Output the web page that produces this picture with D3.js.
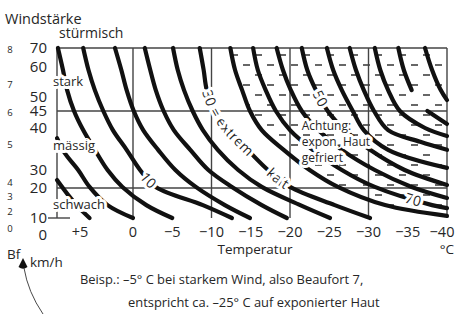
<!DOCTYPE html>
<html>
<meta charset="utf-8">
<title>Windchill</title>
<style>
body { margin: 0; background: #fff; }
text { font-family: "Open Sans", sans-serif; fill: #262626; }
.halo { stroke: #fff; stroke-width: 6px; stroke-linejoin: round; paint-order: stroke; }
</style>
<body>
<svg id="chart" width="455" height="314"></svg>
<script src="https://cdn.jsdelivr.net/npm/d3@7"></script>
<script>
// ticks
var tempTicks = [5, 0, -5, -10, -15, -20, -25, -30, -35, -40];
var windTicks = [70, 60, 50, 45, 40, 30, 20, 10, 0];
var bfNames = ["8", "7", "6", "5", "4", "3", "2", "0"];
var bfKmh   = [69, 54, 44.5, 36, 23, 17, 12, 4];
var tempGrid = [10, 0, -10, -20, -30, -40];
var windGrid = [70, 45, 20];
var classNames = ["stürmisch", "stark", "mässig", "schwach"];
var classKmh   = [75.3, 53.7, 34.8, 13];

// isolines of felt temperature, [temp °C, wind km/h]
var wcP5  = [[10,24.4],[7.6,17.7],[5.4,13.7],[4.1,10]];
var wc0   = [[10,37.6],[8.3,34],[5.4,30],[4.1,20.6],[2.4,14.3],[0,10]];
var wcM5  = [[9.8,70],[8.7,59],[7.8,52.3],[6.3,45],[4.7,39.5],[3.6,34.8],[2.4,30],[1.0,20.6],[-1.7,14.3],[-5.0,10]];
var wcM10 = [[4.7,70],[4.2,59],[3.6,52.3],[2.8,45],[1.9,39.5],[0.6,34.8],[-0.9,30],[-2.9,20.6],[-8.9,14.3],[-12.6,10]];
var wcM15 = [[1.7,70],[1.1,59],[0.6,52.3],[-0.1,45],[-1.3,39.5],[-3.2,34.8],[-5.4,30],[-8.0,20.6],[-11.7,14.3],[-14.9,10]];
var wcM20 = [[-1.5,70],[-2.2,59],[-2.9,52.3],[-3.9,45],[-5.2,39.5],[-7.3,34.8],[-9.6,30],[-12.6,20.6],[-16.4,14.3],[-19.6,10]];
var wcM25 = [[-5.1,70],[-5.7,59],[-6.5,52.3],[-7.6,45],[-8.9,39.5],[-10.8,34.8],[-13.4,30],[-16.4,20.6],[-21.3,14.3],[-25.1,10]];
var wcM30 = [[-8.5,70],[-9.0,59],[-9.4,52.3],[-10.4,45],[-12.1,39.5],[-14.6,34.8],[-17.2,30],[-20.0,20.6],[-25.7,14.3],[-30.2,10]];
var wcM35 = [[-12.4,70],[-13.0,59],[-13.9,52.3],[-14.9,45],[-16.4,39.5],[-19.2,34.8],[-22.5,30],[-26.1,20.6],[-32.1,14.3],[-40,10.7]];
var wcM40 = [[-15.3,70],[-15.9,59],[-16.9,52.3],[-18.2,45],[-20.0,39.5],[-22.9,34.8],[-26.6,30],[-30.8,20.6],[-38.1,14.3],[-40,13.3]];
var wcM45 = [[-18.3,70],[-19.1,59],[-20.1,52.3],[-21.5,45],[-23.6,39.5],[-26.6,34.8],[-30.8,30],[-35.5,20.6],[-40,16.7]];
var wcM50 = [[-21.5,70],[-22.2,59],[-23.3,52.3],[-24.8,45],[-27.0,39.5],[-30.2,34.8],[-34.6,30],[-40,21.7]];
var wcM55 = [[-24.7,70],[-25.5,59],[-26.6,52.3],[-28.0,45],[-29.4,39.5],[-32.5,34.8],[-40,30.5]];
var wcM60 = [[-27.6,70],[-28.4,59],[-29.4,52.3],[-30.7,45],[-32.5,39.5],[-36.6,36.7],[-40,34.8]];
var wcM65 = [[-30.8,70],[-31.5,59],[-32.5,52.3],[-34.0,45],[-37.2,40],[-40,38.1]];
var wcM70 = [[-33.8,70],[-34.5,59],[-35.5,52.3],null,[-37.5,45],[-40,41.2]];
var wcM75 = [[-37.2,70],[-38.1,59],[-39.2,52.3],[-40,48.9]];

var isolines = [wcP5, wc0, wcM5, wcM10, wcM15, wcM20, wcM25, wcM30, wcM35,
                wcM40, wcM45, wcM50, wcM55, wcM60, wcM65, wcM70, wcM75];

var svg = d3.select("#chart");

var x = d3.scaleLinear().domain([10, 5, 0, -40]).range([57, 80, 133, 447]);
var y = d3.scaleLinear().domain([0, 10, 20, 30, 40, 45, 50, 60, 70])
  .range([235, 218, 188, 170, 128, 111, 97, 67, 48]);

// frost hatch right of the -35 line
var defs = svg.append("defs");
var pat = defs.append("pattern").attr("id", "frost")
  .attr("patternUnits", "userSpaceOnUse").attr("width", 24).attr("height", 20);
pat.append("line").attr("x1", 3).attr("x2", 10).attr("y1", 5).attr("y2", 5);
pat.append("line").attr("x1", 15).attr("x2", 22).attr("y1", 15).attr("y2", 15);
pat.selectAll("line").attr("stroke", "#333").attr("stroke-width", 1.5);

var poly = d3.line().x(d => x(d[0])).y(d => y(d[1])).curve(d3.curveLinearClosed);
svg.append("path")
  .attr("d", poly(wcM35.concat([[-40, 70]])))
  .attr("fill", "url(#frost)");

// grid
svg.selectAll(".vgrid").data(tempGrid).join("line").attr("class", "vgrid")
  .attr("x1", d => x(d)).attr("x2", d => x(d))
  .attr("y1", y(70)).attr("y2", y(10));
svg.selectAll(".hgrid").data(windGrid).join("line").attr("class", "hgrid")
  .attr("x1", x(10)).attr("x2", x(-40))
  .attr("y1", d => y(d)).attr("y2", d => y(d));
svg.append("line").attr("class", "hgrid")
  .attr("x1", x(10) - 9).attr("x2", x(10) + 13).attr("y1", y(10)).attr("y2", y(10));
svg.selectAll(".vgrid, .hgrid").attr("stroke", "#444").attr("stroke-width", 1.4);

// isolines
var line = d3.line().defined(d => d)
  .x(d => x(d[0])).y(d => y(d[1]))
  .curve(d3.curveCatmullRom.alpha(0.5));

svg.selectAll(".iso").data(isolines).join("path").attr("class", "iso")
  .attr("id", (d, i) => "iso" + i)
  .attr("d", line)
  .attr("fill", "none").attr("stroke", "#111")
  .attr("stroke-width", 4.2).attr("stroke-linecap", "round");

// labels on the lines
function onLine(idx, txt, offset) {
  svg.append("text").attr("class", "halo")
    .attr("dy", "0.35em").style("font-size", "14px")
    .append("textPath").attr("href", "#iso" + idx)
    .attr("startOffset", offset).text(txt);
}
onLine(3, "10", 141);
onLine(7, "30 = extrem", 43);
onLine(7, "kalt", 146);
onLine(11, "50", 46);
onLine(9, "70", 226);

// wind classes
svg.selectAll(".cls").data(classNames).join("text")
  .attr("class", (d, i) => i ? "cls halo" : "cls")
  .attr("x", (d, i) => x(10) - (i ? 4 : -2))
  .attr("y", (d, i) => y(classKmh[i]))
  .style("font-size", (d, i) => i ? "13px" : "14px")
  .text(d => d);

// warning text
var warn = svg.append("text").attr("class", "halo")
  .attr("x", x(-21.5)).attr("y", y(39.5)).style("font-size", "12px");
["Achtung:", "expon. Haut", "gefriert"].forEach(function(t, i) {
  warn.append("tspan").attr("x", x(-21.5)).attr("dy", i ? 16 : 0).text(t);
});

// wind axis
svg.selectAll(".wtick").data(windTicks).join("text").attr("class", "wtick")
  .attr("x", x(10) - 10).attr("y", d => y(d)).attr("dy", "0.36em")
  .attr("text-anchor", "end").style("font-size", "15px")
  .text(d => d);
svg.selectAll(".bf").data(bfNames).join("text").attr("class", "bf")
  .attr("x", 10).attr("y", (d, i) => y(bfKmh[i])).attr("dy", "0.36em")
  .attr("text-anchor", "middle").style("font-size", "9.5px")
  .text(d => d);

svg.append("text").attr("x", 5).attr("y", 24).style("font-size", "14.5px").text("Windstärke");

// temperature axis
svg.selectAll(".ttick").data(tempTicks).join("text").attr("class", "ttick")
  .attr("x", d => x(d)).attr("dx", d => d === -40 ? -5 : 0).attr("y", y(10) + 19)
  .attr("text-anchor", "middle").style("font-size", "14.5px")
  .text(d => d > 0 ? "+" + d : d < 0 ? "\u2212" + (-d) : "0");

svg.append("text").attr("x", 255).attr("y", 254).attr("text-anchor", "middle")
  .style("font-size", "13.5px").text("Temperatur");
svg.append("text").attr("x", 454).attr("y", 254).attr("text-anchor", "end")
  .style("font-size", "13.5px").text("°C");

// unit note with pointer
svg.append("text").attr("x", 7).attr("y", 259).style("font-size", "13.5px").text("Bf");
svg.append("path").attr("d", "M23,258 L27.5,267 Q23,270.5 18.5,267 Z").attr("fill", "#111");
svg.append("path").attr("d", "M24,268 Q28,292 43,314")
  .attr("fill", "none").attr("stroke", "#333").attr("stroke-width", 0.9);
svg.append("text").attr("x", 30).attr("y", 267).style("font-size", "13.5px").text("km/h");

// example
svg.append("text").attr("x", 80).attr("y", 284).style("font-size", "12.9px")
  .text("Beisp.: –5° C bei starkem Wind, also Beaufort 7,");
svg.append("text").attr("x", 128).attr("y", 307).style("font-size", "12.9px")
  .text("entspricht ca. –25° C auf exponierter Haut");
</script>
</body>
</html>
